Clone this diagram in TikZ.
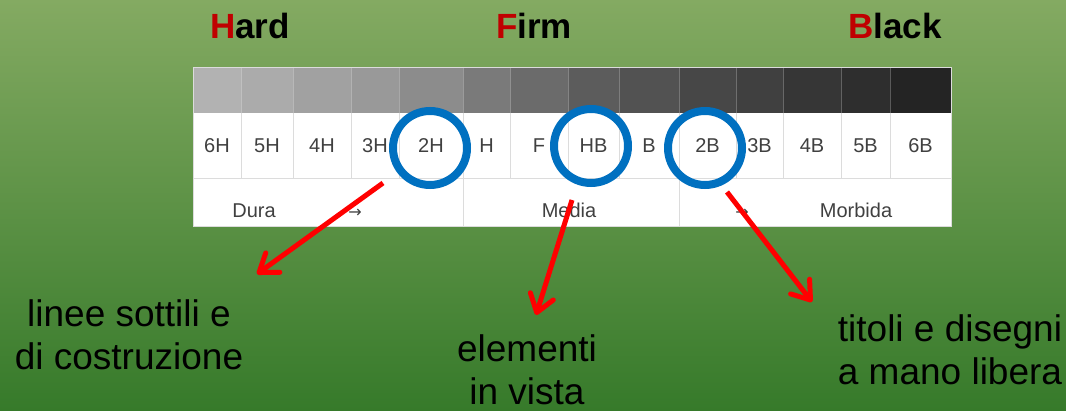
\documentclass[tikz,border=0pt]{standalone}
\usepackage{fontspec}
\setmainfont{Liberation Sans}
\newfontfamily\symfont{DejaVu Sans}
\usetikzlibrary{arrows.meta}
\definecolor{bgtop}{RGB}{132,170,98}
\definecolor{bgbot}{RGB}{54,122,42}
\definecolor{ringblue}{RGB}{0,112,192}
\definecolor{darkred}{RGB}{192,0,0}
\definecolor{celltext}{RGB}{64,64,64}
\definecolor{cellrule}{RGB}{220,220,220}
\tikzset{
  cell/.style={font=\fontsize{20}{20}\selectfont, text=celltext, inner sep=0pt, anchor=base},
  head/.style={font=\bfseries\fontsize{35}{35}\selectfont, inner sep=0pt, anchor=base},
  note/.style={font=\fontsize{37}{43}\selectfont, align=center, inner sep=0pt},
  ring/.style={circle, draw=ringblue, line width=8pt, minimum size=74pt, inner sep=0pt},
  pointer/.style={draw=red, line width=5pt, -{Straight Barb[length=17pt,width=24pt,round]}}
}
\begin{document}
\begin{tikzpicture}[x=1pt,y=-1pt]
\shade[top color=bgtop, bottom color=bgbot] (0,0) rectangle (1066,411);
\useasboundingbox (0,0) rectangle (1066,411);
% headings
\node[head] (hard) at (250,39) {{\color{darkred}H}ard};
\node[head] (firm) at (534,39) {{\color{darkred}F}irm};
\node[head] (black) at (895,39) {{\color{darkred}B}lack};
% the pencil chart
\fill[white] (193,68) rectangle (951,227);
\foreach \xa/\xb/\lab/\g in {193/241/6H/30, 241/293/5H/33, 293/351/4H/37, 351/399/3H/40,
    399/463/2H/45, 463/510/H/52, 510/568/F/58, 568/619/HB/64, 619/679/B/68,
    679/736/2B/72, 736/783/3B/75, 783/841/4B/79, 841/890/5B/82, 890/951/6B/86} {
  \fill[black!\g] (\xa,68) rectangle (\xb,113);
  \node[cell] (c\lab) at ({(\xa+\xb)/2},153) {\lab};
}
\foreach \x in {241,293,351,399,463,510,568,619,679,736,783,841,890} {
  \draw[white, opacity=0.25, line width=1pt] (\x,68) -- (\x,113);
  \draw[cellrule, line width=1pt] (\x,113) -- (\x,179);
}
\draw[cellrule, line width=1pt] (193,179) -- (951,179);
\draw[cellrule, line width=1pt] (463,179) -- (463,227);
\draw[cellrule, line width=1pt] (679,179) -- (679,227);
\draw[cellrule, line width=1pt] (193,68) rectangle (951,227);
\node[cell] (dura) at (254,218) {Dura};
\node[cell, font=\symfont\fontsize{16}{16}\selectfont] (arrowa) at (355,218) {→};
\node[cell] (media) at (569,218) {Media};
\node[cell, font=\symfont\fontsize{16}{16}\selectfont] (arrowb) at (742,218) {→};
\node[cell] (morbida) at (856,218) {Morbida};
% rings round the three grades
\node[ring] (ring2H) at (430,148) {};
\node[ring] (ringHB) at (591,146) {};
\node[ring] (ring2B) at (705,148) {};
% notes
\node[note] (thin) at (129,335) {linee sottili e\\di costruzione};
\node[note] (view) at (527,370) {elementi\\in vista};
\node[note] (free) at (950,350) {titoli e disegni\\a mano libera};
\coordinate (fromA) at (383,183);
\coordinate (toA) at (257,274);
\coordinate (fromB) at (572,200);
\coordinate (toB) at (536,315);
\coordinate (fromC) at (727,192);
\coordinate (toC) at (812,302);
\draw[pointer] (fromA) -- (toA);
\draw[pointer] (fromB) -- (toB);
\draw[pointer] (fromC) -- (toC);
\end{tikzpicture}
\end{document}
